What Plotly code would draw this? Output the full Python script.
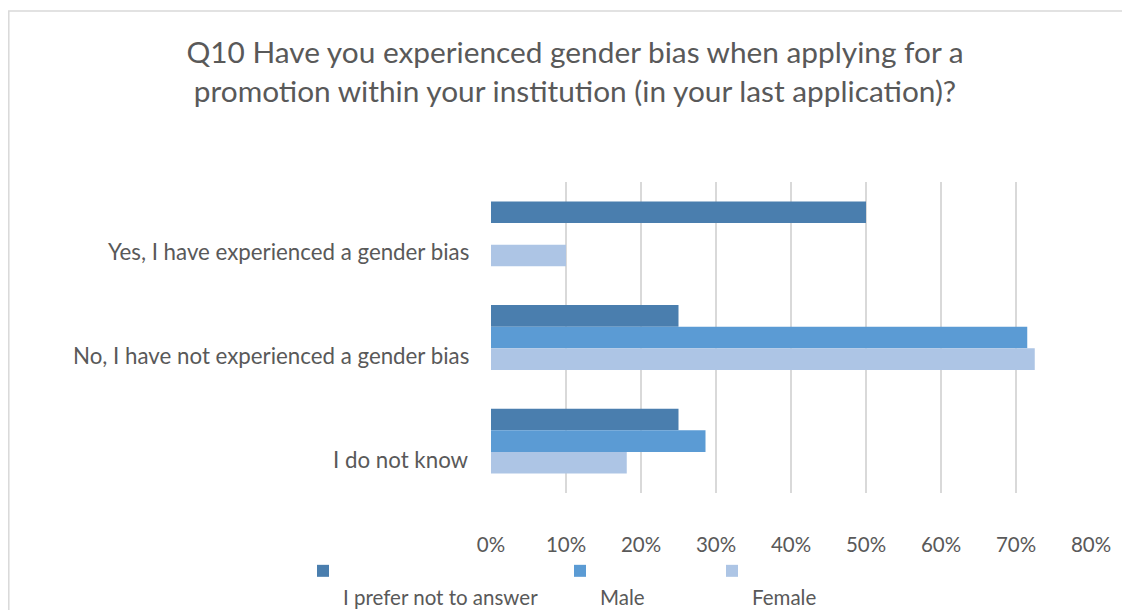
import plotly.graph_objects as go

categories = ["Yes, I have experienced a gender bias",
              "No, I have not experienced a gender bias",
              "I do not know"]
series_names = ["I prefer not to answer", "Male", "Female"]
prefer_vals = [0.50, 0.25, 0.25]
male_vals = [0.0, 0.715, 0.286]
female_vals = [0.10, 0.725, 0.181]
colors = ["#4a7eae", "#5b9bd4", "#adc5e5"]
x_ticks = [0, 0.1, 0.2, 0.3, 0.4, 0.5, 0.6, 0.7, 0.8]

FONT = "Lato"
TXT = "#595959"

# page body has an 8px margin: figure coordinates = reference pixels - 8
OFF = 8
W, H = 1130 - OFF, 610 - OFF
L = 491 - OFF
T = 182 - OFF
R = W - (1091 - OFF)
B = H - (493 - OFF)
pw, ph = W - L - R, H - T - B


def px_x(px):
    return (px - OFF - L) / pw


def px_y(py):
    return (H - B - (py - OFF)) / ph


legend_names = ["legend", "legend2", "legend3"]
marker_centers = [323, 580, 732]

fig = go.Figure()
for name, vals, col, lg in zip(series_names, [prefer_vals, male_vals, female_vals], colors, legend_names):
    fig.add_trace(go.Bar(
        y=categories, x=vals, orientation="h", name="\u00a0<br>" + name,
        marker=dict(color=col, line=dict(width=0)), legend=lg, showlegend=True,
    ))

legend_common = dict(
    orientation="h", xanchor="left", yanchor="top", valign="top",
    font=dict(family=FONT, size=20.5, color=TXT), bgcolor="rgba(0,0,0,0)",
    visible=True,
)

layout_legends = {}
for lg, mc in zip(legend_names, marker_centers):
    layout_legends[lg] = dict(legend_common, x=px_x(mc - 20), y=px_y(551))

fig.update_layout(
    width=W, height=H,
    margin=dict(l=L, r=R, t=T, b=B, autoexpand=False),
    paper_bgcolor="white", plot_bgcolor="white",
    barmode="group", bargap=0.375, bargroupgap=0,
    showlegend=True,
    font=dict(family=FONT, color=TXT, size=20),
    title=dict(
        text="Q10 Have you experienced gender bias when applying for a<br>promotion within your institution (in your last application)?",
        x=(575 - OFF) / W, xanchor="center", xref="container",
        y=1 - (63 - OFF) / H, yanchor="middle", yref="container",
        font=dict(family=FONT, size=29.8, color=TXT),
    ),
    xaxis=dict(
        range=[0, 0.8], tickvals=x_ticks, tickformat=".0%",
        showgrid=True, gridcolor="#d9d9d9", gridwidth=1.5,
        zeroline=False, showline=False,
        ticks="", ticklabelstandoff=37,
        tickfont=dict(family=FONT, size=20.5, color=TXT),
    ),
    yaxis=dict(
        autorange="reversed", showticklabels=False,
        showgrid=False, zeroline=False, showline=False, ticks="",
    ),
    shapes=[dict(
        type="rect", xref="paper", yref="paper",
        x0=px_x(OFF + 0.8), x1=px_x(1145), y0=px_y(11), y1=px_y(640),
        line=dict(color="#d9d9d9", width=1.5), fillcolor="rgba(0,0,0,0)", layer="below",
    )],
    **layout_legends,
)

for cat in categories:
    fig.add_annotation(
        x=0, xref="paper", y=cat, yref="y", xanchor="right", yanchor="middle",
        xshift=-20, yshift=-18, text=cat, showarrow=False,
        font=dict(family=FONT, size=22.3, color=TXT),
    )

fig.write_html("out.html")
